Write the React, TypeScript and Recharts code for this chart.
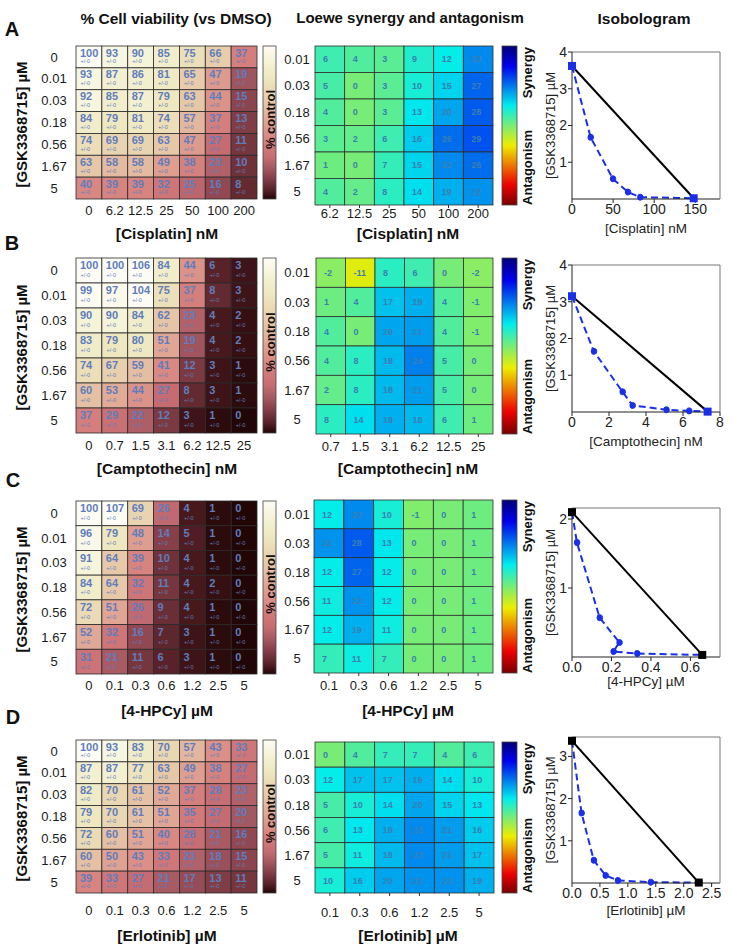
import React from 'react';
import { ScatterChart, Scatter, XAxis, YAxis, ComposedChart, Line } from 'recharts';

const FONT = '"Liberation Sans", Arial, Helvetica, sans-serif';

// ---------------- DATA ----------------
const gskViabilityDoses = ['0', '0.01', '0.03', '0.18', '0.56', '1.67', '5'];
const gskSynergyDoses = ['0.01', '0.03', '0.18', '0.56', '1.67', '5'];
const cisplatinDoses = ['0', '6.2', '12.5', '25', '50', '100', '200'];
const camptothecinDoses = ['0', '0.7', '1.5', '3.1', '6.2', '12.5', '25'];
const hpcyDoses = ['0', '0.1', '0.3', '0.6', '1.2', '2.5', '5'];
const erlotinibDoses = ['0', '0.1', '0.3', '0.6', '1.2', '2.5', '5'];

const viabilityCisplatin = [
  [100, 93, 90, 85, 75, 66, 37],
  [93, 87, 86, 81, 65, 47, 19],
  [92, 85, 87, 79, 63, 44, 15],
  [84, 79, 81, 74, 57, 37, 13],
  [74, 69, 69, 63, 47, 27, 11],
  [63, 58, 58, 49, 38, 23, 10],
  [40, 39, 39, 32, 25, 16, 8],
];
const synergyCisplatin = [
  [6, 4, 3, 9, 12, 23],
  [5, 0, 3, 10, 15, 27],
  [4, 0, 3, 13, 20, 28],
  [3, 2, 6, 16, 26, 29],
  [1, 0, 7, 15, 23, 26],
  [4, 2, 8, 14, 19, 22],
];
const viabilityCamptothecin = [
  [100, 100, 106, 84, 44, 6, 3],
  [99, 97, 104, 75, 37, 8, 3],
  [90, 90, 84, 62, 23, 4, 2],
  [83, 79, 80, 51, 19, 4, 2],
  [74, 67, 59, 41, 12, 3, 1],
  [60, 53, 44, 27, 8, 3, 1],
  [37, 29, 22, 12, 3, 1, 0],
];
const synergyCamptothecin = [
  [-2, -11, 8, 6, 0, -2],
  [1, 4, 17, 19, 4, -1],
  [4, 0, 20, 21, 4, -1],
  [4, 8, 18, 24, 5, 0],
  [2, 8, 18, 21, 5, 0],
  [8, 14, 19, 18, 6, 1],
];
const viabilityHpcy = [
  [100, 107, 69, 26, 4, 1, 0],
  [96, 79, 48, 14, 5, 1, 0],
  [91, 64, 39, 10, 4, 1, 0],
  [84, 64, 32, 11, 4, 2, 0],
  [72, 51, 26, 9, 4, 1, 0],
  [52, 32, 16, 7, 3, 1, 0],
  [31, 21, 11, 6, 3, 1, 0],
];
const synergyHpcy = [
  [12, 23, 10, -1, 0, 1],
  [22, 28, 13, 0, 0, 1],
  [12, 27, 12, 0, 0, 1],
  [11, 22, 12, 0, 0, 1],
  [12, 19, 11, 0, 0, 1],
  [7, 11, 7, 0, 0, 1],
];
const viabilityErlotinib = [
  [100, 93, 83, 70, 57, 43, 33],
  [87, 87, 77, 63, 49, 38, 27],
  [82, 70, 61, 52, 37, 28, 23],
  [79, 70, 61, 51, 35, 27, 20],
  [72, 60, 51, 40, 28, 21, 16],
  [60, 50, 43, 33, 23, 18, 15],
  [39, 33, 27, 21, 17, 13, 11],
];
const synergyErlotinib = [
  [0, 4, 7, 7, 4, 6],
  [12, 17, 17, 19, 14, 10],
  [5, 10, 14, 20, 15, 13],
  [6, 13, 19, 23, 21, 16],
  [5, 11, 18, 23, 21, 17],
  [10, 16, 20, 22, 22, 19],
];

const isoAdditiveCisplatin = [{ x: 0, y: 3.62 }, { x: 148, y: 0.02 }];
const isoObservedCisplatin = [
  { x: 0, y: 3.62 }, { x: 22.6, y: 1.68 }, { x: 49.7, y: 0.55 }, { x: 67.9, y: 0.19 },
  { x: 82.9, y: 0.05 }, { x: 148, y: 0.02 },
];
const isoAdditiveCamptothecin = [{ x: 0, y: 3.15 }, { x: 7.33, y: 0.01 }];
const isoObservedCamptothecin = [
  { x: 0, y: 3.15 }, { x: 1.18, y: 1.65 }, { x: 2.73, y: 0.55 }, { x: 3.27, y: 0.18 },
  { x: 5.1, y: 0.06 }, { x: 6.33, y: 0.03 }, { x: 7.33, y: 0.01 },
];
const isoAdditiveHpcy = [{ x: 0, y: 2.1 }, { x: 0.66, y: 0.03 }];
const isoObservedHpcy = [
  { x: 0, y: 2.1 }, { x: 0.025, y: 1.66 }, { x: 0.14, y: 0.57 }, { x: 0.24, y: 0.21 },
  { x: 0.21, y: 0.08 }, { x: 0.33, y: 0.05 }, { x: 0.66, y: 0.03 },
];
const isoAdditiveErlotinib = [{ x: 0, y: 3.37 }, { x: 2.27, y: 0.01 }];
const isoObservedErlotinib = [
  { x: 0, y: 3.37 }, { x: 0.17, y: 1.66 }, { x: 0.39, y: 0.54 }, { x: 0.6, y: 0.18 },
  { x: 0.82, y: 0.06 }, { x: 1.41, y: 0.02 }, { x: 2.27, y: 0.01 },
];

const isoXTicksCisplatin = [0, 50, 100, 150];
const isoXTicksCamptothecin = [0, 2, 4, 6, 8];
const isoXTicksHpcy = [0, 0.2, 0.4, 0.6];
const isoXTicksErlotinib = [0, 0.5, 1, 1.5, 2, 2.5];
const isoYTicksCisplatin = [1, 2, 3, 4];
const isoYTicksCamptothecin = [1, 2, 3, 4];
const isoYTicksHpcy = [1, 2];
const isoYTicksErlotinib = [1, 2, 3];

// ---------------- COLORS ----------------
const VIAB_STOPS: [number, number[]][] = [
  [0, [34, 6, 6]], [3, [62, 20, 24]], [6, [88, 34, 40]], [10, [112, 50, 58]],
  [15, [140, 68, 78]], [20, [164, 88, 98]], [27, [196, 108, 114]], [35, [210, 122, 122]],
  [42, [218, 140, 134]], [50, [223, 162, 146]], [60, [229, 192, 164]], [70, [233, 214, 178]],
  [80, [238, 233, 194]], [90, [245, 243, 216]], [100, [253, 252, 244]],
];
function viabColor(v: number) {
  const x = Math.max(0, Math.min(100, v));
  for (let i = 1; i < VIAB_STOPS.length; i++) {
    const [v0, c0] = VIAB_STOPS[i - 1];
    const [v1, c1] = VIAB_STOPS[i];
    if (x <= v1) {
      const t = (x - v0) / (v1 - v0);
      const c = c0.map((a, k) => Math.round(a + (c1[k] - a) * t));
      return `rgb(${c[0]},${c[1]},${c[2]})`;
    }
  }
  return 'rgb(253,252,244)';
}
function jet(t: number) {
  const cl = (v: number) => Math.max(0, Math.min(1, v));
  const k = 0.93;
  const r = cl(1.5 - Math.abs(4 * t - 3)) * 255 * k;
  const g = cl(1.5 - Math.abs(4 * t - 2)) * 255 * k;
  const b = cl(1.5 - Math.abs(4 * t - 1)) * 255 * k;
  return `rgb(${Math.round(r)},${Math.round(g)},${Math.round(b)})`;
}
const synColor = (v: number) => jet(Math.max(0, Math.min(1, 0.5 - v / 100)));

// ---------------- LAYOUT ----------------
const LEFT_BOXES = [
  { x: 76, y: 46, w: 181, h: 153, tickY: 210, labelX: 54 },
  { x: 76, y: 258, w: 181, h: 175, tickY: 445, labelX: 54 },
  { x: 76, y: 501, w: 181, h: 173, tickY: 685, labelX: 54 },
  { x: 76, y: 740, w: 181, h: 153, tickY: 910, labelX: 54 },
];
const MID_BOXES = [
  { x: 315, y: 46, w: 178, h: 159, tickY: 213, labelX: 297 },
  { x: 316, y: 258, w: 177, h: 176, tickY: 446, labelX: 297 },
  { x: 314, y: 500, w: 179, h: 173, tickY: 685, labelX: 297 },
  { x: 315, y: 742, w: 179, h: 151, tickY: 912, labelX: 297 },
];
const ISO_BOXES = [
  { x: 572, y: 52, w: 148, h: 147 },
  { x: 572, y: 265, w: 148, h: 147 },
  { x: 572, y: 508, w: 148, h: 149 },
  { x: 572, y: 737, w: 148, h: 146 },
];

const range = (n: number) => Array.from({ length: n }, (_, i) => i);

function Heatmap({ rows, cols, values, box, kind }: any) {
  const nR = rows.length;
  const nC = cols.length;
  const cw = box.w / nC;
  const ch = box.h / nR;
  const YW = 60, MT = 4, MR = 4, XH = 34;
  const tickSize = kind === 'syn' ? 3 : 0;
  const data: any[] = [];
  values.forEach((row: number[], r: number) => row.forEach((v, c) => data.push({ col: c, row: r, v })));

  const shape = (sp: any) => {
    const { cx, cy, payload } = sp;
    const v = payload.v;
    const x0 = cx - cw / 2;
    const y0 = cy - ch / 2;
    if (kind === 'viab') {
      return (
        <g>
          <rect x={x0} y={y0} width={cw} height={ch} fill={viabColor(v)} stroke="#2a2a2a" strokeWidth={0.8} />
          <text x={x0 + 4} y={y0 + ch * 0.3} dy="0.36em" fontSize={11} fontWeight="bold" fill="#5f7dbd" fontFamily={FONT}>{v}</text>
          <text x={x0 + 4.5} y={y0 + ch * 0.7} dy="0.36em" fontSize={5.5} fill="#5f7dbd" fontFamily={FONT}>+/-0</text>
        </g>
      );
    }
    return (
      <g>
        <rect x={x0} y={y0} width={cw} height={ch} fill={synColor(v)} stroke="#2e2e2e" strokeWidth={0.8} />
        <text x={x0 + 8} y={cy} dy="0.36em" fontSize={9} fontWeight="bold" fill="#3b7fb3" fontFamily={FONT}>{v}</text>
      </g>
    );
  };
  const XTick = (tp: any) => (
    <text x={tp.x} y={tp.y - tickSize + (box.tickY - box.y - box.h)} dy="0.36em" textAnchor="middle" fontSize={13} fill="#1a1a1a" fontFamily={FONT}>
      {cols[tp.payload.value]}
    </text>
  );
  const YTick = (tp: any) => (
    <text x={tp.x - (box.x - box.labelX)} y={tp.y} dy="0.36em" textAnchor="middle" fontSize={13} fill="#1a1a1a" fontFamily={FONT}>
      {rows[tp.payload.value]}
    </text>
  );
  return (
    <div style={{ position: 'absolute', left: box.x - YW, top: box.y - MT }}>
      <ScatterChart width={YW + box.w + MR} height={MT + box.h + XH} margin={{ top: MT, right: MR, bottom: 0, left: 0 }}>
        <XAxis type="number" dataKey="col" domain={[-0.5, nC - 0.5]} ticks={range(nC)} interval={0}
          axisLine={false} tickLine={kind === 'syn' ? { stroke: '#333' } : false} tickSize={tickSize} tickMargin={0}
          height={XH} tick={XTick} />
        <YAxis type="number" dataKey="row" reversed domain={[-0.5, nR - 0.5]} ticks={range(nR)} interval={0}
          axisLine={false} tickLine={false} tickSize={0} tickMargin={0} width={YW} tick={YTick} />
        <Scatter data={data} shape={shape} isAnimationActive={false} />
      </ScatterChart>
    </div>
  );
}

function Isobologram({ box, xDomain, xTicks, yDomain, yTicks, additive, observed, squareColor, fmt }: any) {
  const YW = 40, XH = 24, MT = 6, MR = 6;
  const square = (sp: any) => <rect x={sp.cx - 4} y={sp.cy - 4} width={8} height={8} fill={squareColor} />;
  return (
    <div style={{ position: 'absolute', left: box.x - YW, top: box.y - MT - 1 }}>
      <ComposedChart width={YW + box.w + 1 + MR} height={MT + 1 + box.h + XH} margin={{ top: MT, right: MR, bottom: 0, left: 0 }}>
        <XAxis dataKey="x" type="number" domain={xDomain} ticks={xTicks} interval={0} tickFormatter={fmt}
          height={XH} tickSize={4} tickMargin={1} stroke="#222"
          tick={{ fontSize: 14, fill: '#222', fontFamily: FONT }} />
        <XAxis xAxisId="top" orientation="top" type="number" domain={xDomain} height={1} tick={false} tickLine={false} stroke="#777" />
        <YAxis dataKey="y" type="number" domain={yDomain} ticks={yTicks} interval={0} width={YW}
          tickSize={4} tickMargin={1} stroke="#222" tick={{ fontSize: 14, fill: '#222', fontFamily: FONT }} />
        <YAxis yAxisId="right" orientation="right" type="number" domain={yDomain} width={1} tick={false} tickLine={false} stroke="#777" />
        <Line data={additive} dataKey="y" stroke="#000" strokeWidth={2} dot={false} isAnimationActive={false} />
        <Line data={observed} dataKey="y" stroke="#1a30e6" strokeWidth={2} strokeDasharray="7 4"
          dot={{ r: 3, fill: '#1a30e6', stroke: '#1a30e6', strokeWidth: 1 }} isAnimationActive={false} />
        <Scatter data={additive} dataKey="y" shape={square} isAnimationActive={false} />
      </ComposedChart>
    </div>
  );
}

const PANELS = [
  {
    letter: 'A', drug: '[Cisplatin] nM', isoTitle: '[Cisplatin] nM', doses: cisplatinDoses,
    viab: viabilityCisplatin, syn: synergyCisplatin,
    add: isoAdditiveCisplatin, obs: isoObservedCisplatin, xt: isoXTicksCisplatin, yt: isoYTicksCisplatin,
    xd: [0, 180], yd: [0, 4], sq: '#1a30e6', fmt: (v: number) => String(v),
  },
  {
    letter: 'B', drug: '[Camptothecin] nM', isoTitle: '[Camptothecin] nM', doses: camptothecinDoses,
    viab: viabilityCamptothecin, syn: synergyCamptothecin,
    add: isoAdditiveCamptothecin, obs: isoObservedCamptothecin, xt: isoXTicksCamptothecin, yt: isoYTicksCamptothecin,
    xd: [0, 8], yd: [0, 4], sq: '#1a30e6', fmt: (v: number) => String(v),
  },
  {
    letter: 'C', drug: '[4-HPCy] µM', isoTitle: '[4-HPCy] µM', doses: hpcyDoses,
    viab: viabilityHpcy, syn: synergyHpcy,
    add: isoAdditiveHpcy, obs: isoObservedHpcy, xt: isoXTicksHpcy, yt: isoYTicksHpcy,
    xd: [0, 0.75], yd: [0, 2.16], sq: '#000', fmt: (v: number) => v.toFixed(1),
  },
  {
    letter: 'D', drug: '[Erlotinib] µM', isoTitle: '[Erlotinib] µM', doses: erlotinibDoses,
    viab: viabilityErlotinib, syn: synergyErlotinib,
    add: isoAdditiveErlotinib, obs: isoObservedErlotinib, xt: isoXTicksErlotinib, yt: isoYTicksErlotinib,
    xd: [0, 2.65], yd: [0, 3.46], sq: '#000', fmt: (v: number) => v.toFixed(1),
  },
];

const LETTER_POS = [[12, 29], [12, 243], [13, 480], [13, 717]];
const LEFT_TITLE_Y = [233, 468, 710, 935];
const ISO_TITLE_Y = [228, 441, 681, 910];

function Overlay() {
  const viabStops = VIAB_STOPS.slice().reverse();
  const jetStops = range(17).map((i) => i / 16);
  const els: any[] = [];
  const bold = { fontFamily: FONT, fontWeight: 'bold' as const, fill: '#111' };
  els.push(<text key="t1" x={176} y={18} dy="0.36em" textAnchor="middle" fontSize={15.5} {...bold}>% Cell viability (vs DMSO)</text>);
  els.push(<text key="t2" x={410} y={18} dy="0.36em" textAnchor="middle" fontSize={15} {...bold}>Loewe synergy and antagonism</text>);
  els.push(<text key="t3" x={644} y={18} dy="0.36em" textAnchor="middle" fontSize={15.5} {...bold}>Isobologram</text>);
  PANELS.forEach((p, i) => {
    const L = LEFT_BOXES[i];
    const M = MID_BOXES[i];
    const I = ISO_BOXES[i];
    els.push(<text key={'l' + i} x={LETTER_POS[i][0]} y={LETTER_POS[i][1]} dy="0.36em" textAnchor="middle" fontSize={20} {...bold}>{p.letter}</text>);
    const ly = L.y + L.h / 2 + 2;
    els.push(<text key={'ly' + i} x={22} y={ly} dy="0.36em" textAnchor="middle" fontSize={15} transform={`rotate(-90 22 ${ly})`} {...bold}>[GSK3368715] µM</text>);
    els.push(<text key={'lx' + i} x={167} y={LEFT_TITLE_Y[i]} dy="0.36em" textAnchor="middle" fontSize={15.5} {...bold}>{p.drug}</text>);
    els.push(<text key={'mx' + i} x={408} y={LEFT_TITLE_Y[i]} dy="0.36em" textAnchor="middle" fontSize={15.5} {...bold}>{p.drug}</text>);
    // left colorbar
    els.push(<rect key={'cb' + i} x={263} y={L.y} width={13} height={L.h} fill="url(#viabGrad)" stroke="#444" strokeWidth={0.8} />);
    const cy = L.y + L.h * 0.48;
    els.push(<text key={'pc' + i} x={270} y={cy} dy="0.36em" textAnchor="middle" fontSize={13} transform={`rotate(-90 270 ${cy})`} {...bold}>% control</text>);
    // mid colorbar
    els.push(<rect key={'jb' + i} x={502} y={M.y} width={15} height={M.h} fill="url(#jetGrad)" stroke="#444" strokeWidth={0.8} />);
    els.push(<text key={'sy' + i} x={527} y={M.y + 1} dy="0.36em" textAnchor="end" fontSize={13} transform={`rotate(-90 527 ${M.y + 1})`} {...bold}>Synergy</text>);
    els.push(<text key={'an' + i} x={527} y={M.y + M.h} dy="0.36em" textAnchor="start" fontSize={13} transform={`rotate(-90 527 ${M.y + M.h})`} {...bold}>Antagonism</text>);
    // iso titles
    const iy = I.y + I.h / 2;
    els.push(<text key={'iy' + i} x={550} y={iy} dy="0.36em" textAnchor="middle" fontSize={13} fill="#222" fontFamily={FONT} transform={`rotate(-90 550 ${iy})`}>[GSK3368715] µM</text>);
    els.push(<text key={'ix' + i} x={I.x + I.w / 2} y={ISO_TITLE_Y[i]} dy="0.36em" textAnchor="middle" fontSize={13.5} fill="#222" fontFamily={FONT}>{p.isoTitle}</text>);
  });
  return (
    <svg width={733} height={945} style={{ position: 'absolute', left: 0, top: 0, pointerEvents: 'none' }}>
      <defs>
        <linearGradient id="viabGrad" x1="0" y1="0" x2="0" y2="1">
          {viabStops.map(([v, c], k) => (
            <stop key={k} offset={`${100 - v}%`} stopColor={`rgb(${c[0]},${c[1]},${c[2]})`} />
          ))}
        </linearGradient>
        <linearGradient id="jetGrad" x1="0" y1="0" x2="0" y2="1">
          {jetStops.map((t, k) => (
            <stop key={k} offset={`${t * 100}%`} stopColor={jet(t)} />
          ))}
        </linearGradient>
      </defs>
      {els}
    </svg>
  );
}

export default function App() {
  return (
    <div style={{ position: 'absolute', left: 0, top: 0, width: 733, height: 945, background: '#fff', fontFamily: FONT, overflow: 'hidden' }}>
      {PANELS.map((p, i) => (
        <React.Fragment key={p.letter}>
          <Heatmap rows={gskViabilityDoses} cols={p.doses} values={p.viab} box={LEFT_BOXES[i]} kind="viab" />
          <Heatmap rows={gskSynergyDoses} cols={p.doses.slice(1)} values={p.syn} box={MID_BOXES[i]} kind="syn" />
          <Isobologram box={ISO_BOXES[i]} xDomain={p.xd} xTicks={p.xt} yDomain={p.yd} yTicks={p.yt}
            additive={p.add} observed={p.obs} squareColor={p.sq} fmt={p.fmt} />
        </React.Fragment>
      ))}
      <Overlay />
    </div>
  );
}
